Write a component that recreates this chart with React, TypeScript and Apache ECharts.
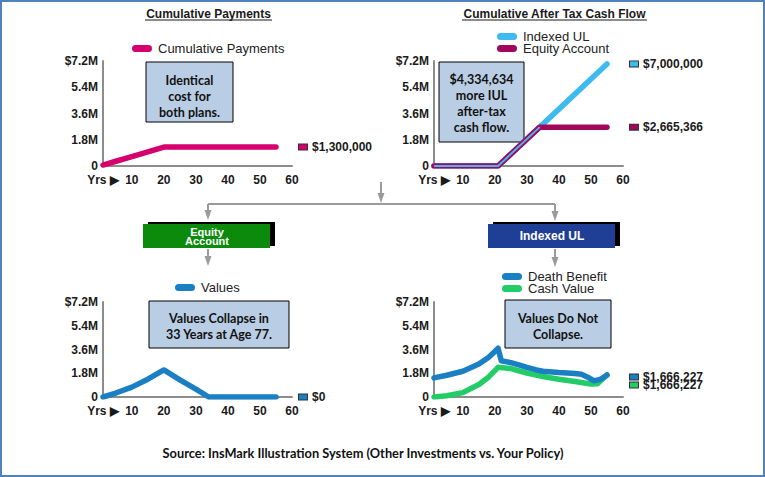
import React, { useEffect, useRef } from "react";
import * as echarts from "echarts";

// ---- data (year, value) ----
const paymentPoints: [number, number][] = [
  [1, 65000], [5, 325000], [10, 650000], [15, 975000], [20, 1300000],
  [30, 1300000], [40, 1300000], [55, 1300000],
];
const iulCashFlow: [number, number][] = [
  [1, 0], [21, 0], [30, 1850000], [40, 3900000], [55, 7000000],
];
const equityCashFlow: [number, number][] = [
  [1, 0], [21, 0], [34, 2665366], [45, 2665366], [55, 2665366],
];
const equityValues: [number, number][] = [
  [1, 0], [5, 300000], [10, 750000], [15, 1350000], [20, 2050000],
  [25, 1300000], [30, 600000], [34, 0], [45, 0], [55, 0],
];
const deathBenefit: [number, number][] = [
  [1, 1450000], [5, 1650000], [10, 1950000], [15, 2500000], [18, 3000000],
  [20, 3450000], [21, 3700000], [22, 2750000], [25, 2600000], [28, 2400000],
  [30, 2250000], [33, 2050000], [35, 1950000], [40, 1850000], [45, 1780000],
  [47, 1720000], [49, 1500000], [51, 1220000], [53, 1350000], [55, 1666227],
];
const cashValue: [number, number][] = [
  [1, 0], [5, 100000], [10, 330000], [15, 950000], [18, 1500000],
  [20, 2000000], [21, 2250000], [25, 2150000], [30, 1820000], [35, 1550000],
  [40, 1350000], [45, 1170000], [50, 980000], [52, 1000000], [55, 1666227],
];
const xTickValues = [1, 10, 20, 30, 40, 50, 60];

const FONT = '"Liberation Sans", Arial, sans-serif';
const NOTE_FONT = 'Lato, "Open Sans", sans-serif';
const C_PAY = "#d5006d";
const C_IUL = "#3dbbf0";
const C_EQ = "#a3075b";
const C_VAL = "#1a7fc3";
const C_DB = "#1a7fc3";
const C_CV = "#24cc68";
const AXIS = "#8c8c8c";
const GRAY = "#9a9a9a";
const CAPSULE = "path://M3.5,0 L16.5,0 A3.5,3.5 0 0 1 16.5,7 L3.5,7 A3.5,3.5 0 0 1 3.5,0 Z";

const grids = [
  { left: 103, top: 61, width: 189, height: 105 },
  { left: 434, top: 61, width: 189, height: 105 },
  { left: 103, top: 302, width: 189, height: 95 },
  { left: 434, top: 302, width: 189, height: 95 },
];

function yAxis(gridIndex: number) {
  return {
    type: "value", gridIndex, min: 0, max: 7200000, interval: 1800000,
    axisLine: { show: true, lineStyle: { color: AXIS, width: 2 } },
    axisTick: { show: false },
    splitLine: { show: false },
    axisLabel: {
      margin: 5, fontFamily: FONT, fontWeight: "bold", fontSize: 12, color: "#1a1a1a",
      formatter: (v: number) => (v === 0 ? "0" : v === 7200000 ? "$7.2M" : (v / 1e6).toFixed(1) + "M"),
    },
  };
}
function xAxis(gridIndex: number) {
  return {
    type: "value", gridIndex, min: 1, max: 60,
    axisLine: { show: true, onZero: false, lineStyle: { color: AXIS, width: 2 } },
    axisTick: { show: false },
    splitLine: { show: false },
    axisLabel: {
      customValues: xTickValues, margin: 8, fontFamily: FONT, fontWeight: "bold", fontSize: 12, color: "#1a1a1a",
      showMinLabel: true, showMaxLabel: true,
      formatter: (v: number) => (v === 1 ? "Yrs ▶" : String(v)),
    },
  };
}
function endLabel(color: string, offsetY = 0) {
  return {
    show: true, distance: 23, offset: [0, offsetY],
    formatter: (p: any) => `{sq|}{v|$${Number(p.value[1]).toLocaleString("en-US")}}`,
    rich: {
      sq: { width: 8, height: 5, backgroundColor: color, borderColor: "#333", borderWidth: 1 },
      v: { fontFamily: FONT, fontWeight: "bold", fontSize: 12, color: "#1a1a1a", padding: [0, 0, 0, 5] },
    },
  };
}
function line(name: string, idx: number, data: [number, number][], color: string, extra: any = {}) {
  return {
    type: "line", name, xAxisIndex: idx, yAxisIndex: idx, data,
    symbol: "none", showSymbol: false, silent: true,
    lineStyle: { width: 5.5, color, cap: "round", join: "round" },
    itemStyle: { color },
    ...extra,
  };
}
function legend(name: string, left: number, cy: number) {
  return {
    data: [name], left, top: cy - 7, padding: 0, selectedMode: false,
    icon: CAPSULE, itemWidth: 20, itemHeight: 7,
    textStyle: { fontFamily: FONT, fontSize: 13, color: "#222", padding: [0, 0, 0, 1] },
  };
}
function note(x: number, y: number, w: number, h: number, cy: number, text: string) {
  return {
    type: "group",
    children: [
      { type: "rect", shape: { x, y, width: w, height: h }, style: { fill: "#b9cde4", stroke: "#000", lineWidth: 1 } },
      {
        type: "text", x: x + w / 2, y: cy,
        style: { text, align: "center", verticalAlign: "middle", fontFamily: NOTE_FONT, fontWeight: "bold", fontSize: 12.5, lineHeight: 16, fill: "#111" },
      },
    ],
  };
}
function downArrow(x: number, y1: number, tip: number) {
  return [
    { type: "line", shape: { x1: x, y1, x2: x, y2: tip - 6 }, style: { stroke: GRAY, lineWidth: 2 } },
    { type: "polygon", shape: { points: [[x - 3.5, tip - 10], [x + 3.5, tip - 10], [x, tip]] }, style: { fill: GRAY } },
  ];
}
function box3d(x: number, y: number, w: number, h: number, fill: string) {
  return [
    { type: "rect", shape: { x: x + 5, y: y - 2, width: w, height: h }, style: { fill: "#000" } },
    { type: "rect", shape: { x, y, width: w, height: h }, style: { fill } },
  ];
}

export default function App() {
  const ref = useRef<HTMLDivElement>(null);
  useEffect(() => {
    if (!ref.current) return;
    const chart = echarts.init(ref.current, null, { renderer: "svg" });
    const overlay = equityCashFlow.filter((d) => d[0] <= 34);
    chart.setOption({
      animation: false,
      backgroundColor: "#fff",
      grid: grids.map((g) => ({ ...g, outerBoundsMode: "none", containLabel: false })),
      xAxis: [0, 1, 2, 3].map(xAxis),
      yAxis: [0, 1, 2, 3].map(yAxis),
      legend: [
        legend("Cumulative Payments", 132, 49),
        legend("Indexed UL", 497, 37),
        legend("Equity Account", 497, 49),
        legend("Values", 175, 288),
        legend("Death Benefit", 502, 277),
        legend("Cash Value", 502, 289),
      ],
      series: [
        line("Cumulative Payments", 0, paymentPoints, C_PAY, { endLabel: endLabel(C_PAY) }),
        line("Indexed UL", 1, iulCashFlow, C_IUL, { z: 2, endLabel: endLabel(C_IUL) }),
        line("Equity Account", 1, equityCashFlow, C_EQ, { z: 3, endLabel: endLabel(C_EQ) }),
        line("IUL overlay", 1, overlay, C_IUL, { z: 4, lineStyle: { width: 2, color: C_IUL } }),
        line("Values", 2, equityValues, C_VAL, { endLabel: endLabel(C_VAL) }),
        line("Death Benefit", 3, deathBenefit, C_DB, { z: 3, endLabel: endLabel(C_DB, 2) }),
        line("Cash Value", 3, cashValue, C_CV, { z: 2, endLabel: endLabel(C_CV, 10) }),
      ],
      graphic: [
        { type: "rect", shape: { x: 1, y: 1, width: 763, height: 475 }, style: { fill: "none", stroke: "#4f81bd", lineWidth: 2 } },
        { type: "text", x: 208.5, y: 14, style: { text: "Cumulative Payments", align: "center", verticalAlign: "middle", fontFamily: FONT, fontWeight: "bold", fontSize: 12, fill: "#1a1a1a" } },
        { type: "line", shape: { x1: 145, y1: 20, x2: 272, y2: 20 }, style: { stroke: "#1a1a1a", lineWidth: 1 } },
        { type: "text", x: 554.5, y: 14, style: { text: "Cumulative After Tax Cash Flow", align: "center", verticalAlign: "middle", fontFamily: FONT, fontWeight: "bold", fontSize: 12, fill: "#1a1a1a" } },
        { type: "line", shape: { x1: 462, y1: 20, x2: 647, y2: 20 }, style: { stroke: "#1a1a1a", lineWidth: 1 } },
        note(146, 62, 87, 60, 96, "Identical\ncost for\nboth plans."),
        note(439, 62, 85, 80, 103, "$4,334,634\nmore IUL\nafter-tax\ncash flow."),
        note(149, 301, 140, 47, 326, "Values Collapse in\n33 Years at Age 77."),
        note(505, 300, 106, 48, 326, "Values Do Not\nCollapse."),
        ...downArrow(381, 182, 203),
        { type: "line", shape: { x1: 208, y1: 204, x2: 555, y2: 204 }, style: { stroke: GRAY, lineWidth: 2 } },
        ...downArrow(208, 204, 220),
        ...downArrow(555, 204, 221),
        ...box3d(143, 224, 127, 24, "#0b8a0b"),
        ...box3d(488, 224, 127, 24, "#1f3e95"),
        { type: "text", x: 207, y: 236, style: { text: "Equity\nAccount", align: "center", verticalAlign: "middle", fontFamily: FONT, fontWeight: "bold", fontSize: 11, lineHeight: 9, fill: "#fff" } },
        { type: "text", x: 552, y: 236, style: { text: "Indexed UL", align: "center", verticalAlign: "middle", fontFamily: FONT, fontWeight: "bold", fontSize: 12, fill: "#fff" } },
        ...downArrow(208, 249, 266),
        ...downArrow(555, 249, 267),
        { type: "text", x: 363, y: 453, style: { text: "Source: InsMark Illustration System (Other Investments vs. Your Policy)", align: "center", verticalAlign: "middle", fontFamily: NOTE_FONT, fontWeight: "bold", fontSize: 12.8, fill: "#111" } },
      ],
    });
    return () => chart.dispose();
  }, []);
  return <div ref={ref} style={{ position: "fixed", left: 0, top: 0, width: 765, height: 477 }} />;
}
